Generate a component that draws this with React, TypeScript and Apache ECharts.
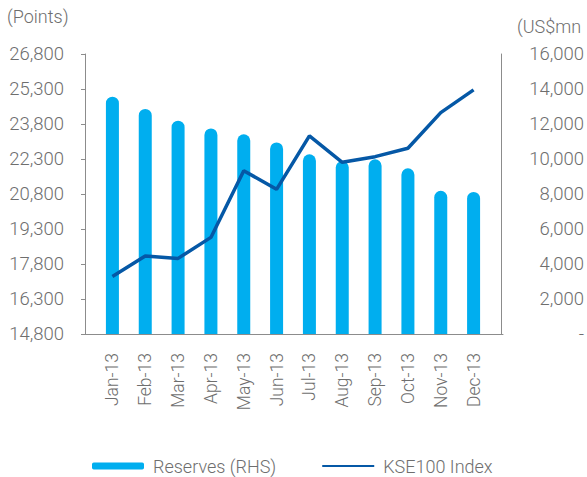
import React, { useEffect, useRef } from "react";
import * as echarts from "echarts";

const categories = ["Jan-13", "Feb-13", "Mar-13", "Apr-13", "May-13", "Jun-13", "Jul-13", "Aug-13", "Sep-13", "Oct-13", "Nov-13", "Dec-13"];
const reserves = [13560, 12860, 12190, 11750, 11410, 10950, 10270, 9880, 9980, 9470, 8180, 8120];
const kse100 = [17260, 18140, 18040, 18940, 21800, 21000, 23290, 22160, 22400, 22760, 24290, 25260];
const leftTitle = "(Points)";
const rightTitle = "(US$mn";

const FONT = "Roboto";
const TEXT = "#6e6e6e";
const AXIS = "#8c8c8c";

export default function App() {
  const ref = useRef<HTMLDivElement>(null);
  useEffect(() => {
    if (!ref.current) return;
    const chart = echarts.init(ref.current, null, { renderer: "svg" });
    const fmt = (v: number) => v.toLocaleString("en-US");
    chart.setOption({
      animation: false,
      backgroundColor: "#fff",
      textStyle: { fontFamily: FONT, fontWeight: 300, color: TEXT },
      grid: [
        { left: 96, right: 95, top: 54, bottom: 143 },
        { left: 85, right: 84, top: 54, bottom: 143 },
      ],
      legend: {
        left: 87,
        top: 452,
        itemGap: 45,
        itemWidth: 52,
        itemHeight: 7,
        textStyle: { fontFamily: FONT, fontWeight: 300, fontSize: 18, color: TEXT, padding: [0, 0, 0, 4] },
        data: [
          { name: "Reserves (RHS)", icon: "roundRect" },
          { name: "KSE100 Index", itemStyle: { opacity: 0 } },
        ],
      },
      graphic: [
        { type: "text", left: 7, top: 7, style: { text: leftTitle, font: `300 18px ${FONT}`, fill: TEXT } },
        { type: "text", left: 517, top: 17, style: { text: rightTitle, font: `300 18px ${FONT}`, fill: TEXT } },
      ],
      xAxis: [
        {
          type: "category",
          gridIndex: 0,
          data: categories,
          boundaryGap: true,
          axisLine: { show: false },
          axisTick: { show: false },
          axisLabel: { rotate: 90, margin: 19, fontSize: 17.5, color: TEXT, fontFamily: FONT, fontWeight: 300 },
        },
        {
          type: "value",
          gridIndex: 1,
          min: 0,
          max: 1,
          axisLine: { show: true, lineStyle: { color: AXIS, width: 1 } },
          axisTick: { show: false },
          axisLabel: { show: false },
          splitLine: { show: false },
        },
      ],
      yAxis: [
        {
          type: "value",
          gridIndex: 0,
          position: "left",
          offset: 11,
          min: 14800,
          max: 26800,
          interval: 1500,
          axisLine: { show: true, lineStyle: { color: AXIS, width: 1 } },
          axisTick: { show: true, length: 4, lineStyle: { color: AXIS } },
          splitLine: { show: false },
          axisLabel: { margin: 21, fontSize: 18.5, color: TEXT, fontFamily: FONT, fontWeight: 300, formatter: fmt },
        },
        {
          type: "value",
          gridIndex: 0,
          position: "right",
          offset: 11,
          min: 0,
          max: 16000,
          interval: 2000,
          axisLine: { show: true, lineStyle: { color: AXIS, width: 1 } },
          axisTick: { show: false },
          splitLine: { show: false },
          axisLabel: {
            margin: 83,
            align: "right",
            fontSize: 18.5,
            color: TEXT,
            fontFamily: FONT,
            fontWeight: 300,
            formatter: (v: number) => (v === 0 ? "-" : fmt(v)),
          },
        },
        { type: "value", gridIndex: 1, show: false },
      ],
      series: [
        {
          name: "Reserves (RHS)",
          type: "bar",
          xAxisIndex: 0,
          yAxisIndex: 1,
          data: reserves,
          barWidth: 13,
          itemStyle: { color: "#00aeef", borderRadius: [7, 7, 0, 0] },
        },
        {
          name: "KSE100 Index",
          type: "line",
          xAxisIndex: 0,
          yAxisIndex: 0,
          data: kse100,
          symbol: "none",
          lineStyle: { color: "#0558a6", width: 3.5 },
          itemStyle: { color: "#0558a6" },
        },
      ],
    });
    return () => chart.dispose();
  }, []);
  return <div ref={ref} style={{ width: 587, height: 477, position: "absolute", left: 0, top: 0 }} />;
}
